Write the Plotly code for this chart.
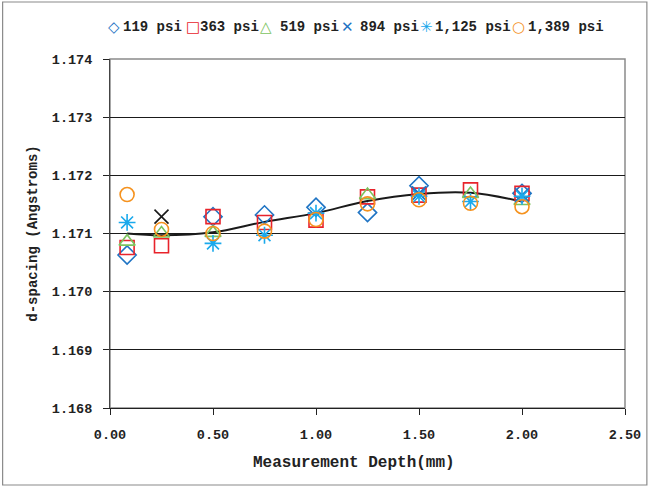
import plotly.graph_objects as go

# ---- data ----
depth_119 = [0.083, 0.5, 0.75, 1.0, 1.25, 1.5, 2.0]
d_119 = [1.17063, 1.17129, 1.17132, 1.17145, 1.17136, 1.17182, 1.17169]

depth_363 = [0.083, 0.25, 0.5, 0.75, 1.0, 1.25, 1.5, 1.75, 2.0]
d_363 = [1.17076, 1.17079, 1.17129, 1.17119, 1.17123, 1.17163, 1.17166, 1.17175, 1.17169]

depth_519 = [0.083, 0.25, 0.5, 1.25, 1.75, 2.0]
d_519 = [1.17086, 1.17100, 1.17101, 1.17166, 1.17168, 1.17156]

depth_894 = [1.5, 2.0]
d_894 = [1.17169, 1.17166]

depth_894_extra = [0.25]
d_894_extra = [1.17129]

depth_1125 = [0.083, 0.5, 0.75, 1.0, 1.5, 1.75, 2.0]
d_1125 = [1.17119, 1.17083, 1.17097, 1.17135, 1.17164, 1.17155, 1.17164]

depth_1389 = [0.083, 0.25, 0.5, 0.75, 1.0, 1.25, 1.5, 1.75, 2.0]
d_1389 = [1.17167, 1.17107, 1.17100, 1.17104, 1.17124, 1.17151, 1.17158, 1.17152, 1.17146]

trend_x = [0.083, 0.25, 0.5, 0.75, 1.0, 1.25, 1.5, 1.75, 2.0]
trend_y = [1.17100, 1.17097, 1.17102, 1.17120, 1.17135, 1.17156, 1.17168, 1.17170, 1.17155]

y_ticks = [1.168, 1.169, 1.170, 1.171, 1.172, 1.173, 1.174]
x_ticks = [0.0, 0.5, 1.0, 1.5, 2.0, 2.5]

series_names = ["119 psi", "363 psi", "519 psi", "894 psi", "1,125 psi", "1,389 psi"]
series_colors = ["#1f74c4", "#e8232b", "#7cc35f", "#1f74c4", "#1aa9ec", "#f5921e"]
series_symbols = ["diamond-open", "square-open", "triangle-up-open", "x-thin-open", "asterisk-open", "circle-open"]
legend_glyphs = ["◇", "□", "△", "✕", "✳", "○"]

FONT = "Liberation Mono, Courier New, monospace"
MS = 14

series_x = [depth_119, depth_363, depth_519, depth_894, depth_1125, depth_1389]
series_y = [d_119, d_363, d_519, d_894, d_1125, d_1389]

fig = go.Figure()

fig.add_trace(go.Scatter(
    x=trend_x, y=trend_y, mode="lines", line=dict(color="#1a1a1a", width=2, shape="spline"),
    showlegend=False, hoverinfo="skip"))

for name, xs, ys, sym, col in zip(series_names, series_x, series_y, series_symbols, series_colors):
    fig.add_trace(go.Scatter(
        x=xs, y=ys, mode="markers", name=name, showlegend=False,
        marker=dict(symbol=sym, size=MS, color=col, line=dict(color=col, width=1.6)),
    ))

fig.add_trace(go.Scatter(
    x=depth_894_extra, y=d_894_extra, mode="markers", showlegend=False, name="894 psi",
    marker=dict(symbol="x-thin-open", size=MS, color="#1a1a1a", line=dict(color="#1a1a1a", width=1.6)),
))

W, H = 653, 488
L, R, T, B = 110, 25, 59, 80
pw, ph = W - L - R, H - T - B


def px_to_paper_x(px):
    return (px - L) / pw


def py_to_paper_y(py):
    return (H - B - py) / ph


# legend layout (pixel positions of glyph centres and label starts)
legend_glyph_px = [114, 193, 267, 349, 428, 521]
legend_text_px = [122, 200, 280, 360, 436, 529]
legend_y_px = 27

annotations = []
for g, n, c, gx, tx in zip(legend_glyphs, series_names, series_colors, legend_glyph_px, legend_text_px):
    annotations.append(dict(
        text=g, xref="paper", yref="paper", x=px_to_paper_x(gx), y=py_to_paper_y(legend_y_px),
        xanchor="center", yanchor="middle", showarrow=False, borderpad=0,
        font=dict(family="DejaVu Sans", size=15, color=c)))
    annotations.append(dict(
        text=n, xref="paper", yref="paper", x=px_to_paper_x(tx), y=py_to_paper_y(legend_y_px),
        xanchor="left", yanchor="middle", showarrow=False, borderpad=0,
        font=dict(family=FONT, size=14, color="#222222", weight="bold")))

annotations.append(dict(
    text="Measurement Depth(mm)", xref="paper", yref="paper", x=px_to_paper_x(355), y=py_to_paper_y(463),
    xanchor="center", yanchor="middle", showarrow=False,
    font=dict(family=FONT, size=16, color="#222222", weight="bold")))

fig.update_layout(
    width=W, height=H,
    margin=dict(l=L, r=R, t=T, b=B, pad=0),
    paper_bgcolor="white", plot_bgcolor="white",
    font=dict(family=FONT, size=13, color="#222222", weight="bold"),
    showlegend=False,
    xaxis=dict(
        range=[0, 2.5], tickvals=x_ticks, ticktext=[f"{v:.2f}" for v in x_ticks],
        showgrid=False, zeroline=False, showline=True, linecolor="#222222", linewidth=1,
        ticks="outside", ticklen=6, tickcolor="#222222", ticklabelstandoff=8,
        tickfont=dict(family=FONT, size=13.5, weight="bold"),
    ),
    yaxis=dict(
        range=[1.168, 1.174], tickvals=y_ticks, ticktext=[f"{v:.3f}" for v in y_ticks],
        showgrid=True, gridcolor="#1a1a1a", gridwidth=1, zeroline=False,
        showline=True, linecolor="#444444", linewidth=1,
        ticks="outside", ticklen=6, tickcolor="#222222", ticklabelstandoff=8,
        title=dict(text="d-spacing (Angstroms)", font=dict(family=FONT, size=14, weight="bold"), standoff=10),
        tickfont=dict(family=FONT, size=13.5, weight="bold"),
    ),
    annotations=annotations,
    shapes=[
        dict(type="rect", xref="paper", yref="paper", x0=0, x1=1, y0=0, y1=1,
             line=dict(color="#8a8a8a", width=1.5), layer="below"),
        dict(type="rect", xref="paper", yref="paper",
             x0=px_to_paper_x(2), x1=px_to_paper_x(650), y0=py_to_paper_y(485), y1=py_to_paper_y(2),
             line=dict(color="#8a8a8a", width=1.2), layer="below"),
    ],
)

fig.write_html(
    "out.html",
    config={"displayModeBar": False},
    post_script="document.body.style.margin='0';document.body.style.padding='0';document.body.style.overflow='hidden';",
)
